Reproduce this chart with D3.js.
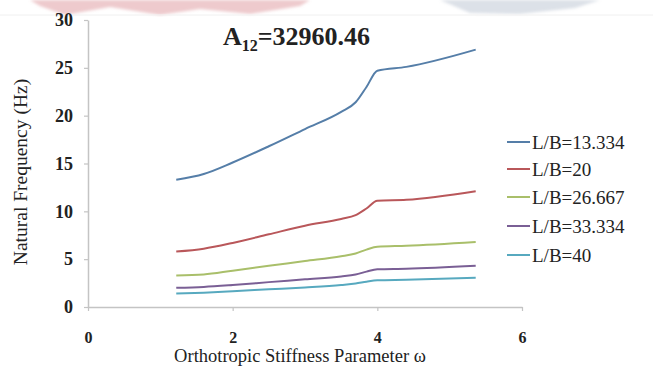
<!DOCTYPE html>
<html>
<head>
<meta charset="utf-8">
<script src="https://cdn.jsdelivr.net/npm/d3@7"></script>
<style>
  html, body { margin: 0; padding: 0; background: #fff; }
  svg { display: block; }
  text { font-family: "Liberation Serif", "Times New Roman", serif; fill: #222; }
</style>
</head>
<body>
<svg id="chart" width="653" height="367"></svg>
<script>
// Orthotropic stiffness parameter (x values shared by all series)
const omega = [1.22, 1.6, 2.0, 2.5, 3.0, 3.5, 3.7, 3.85, 4.0, 4.4, 5.36];

// Natural frequency (Hz) for each length/breadth ratio
const freqLB13 = [13.3, 13.9, 15.1, 16.8, 18.6, 20.4, 21.4, 23.0, 24.7, 25.1, 26.9];
const freqLB20 = [5.8, 6.1, 6.7, 7.6, 8.5, 9.2, 9.6, 10.3, 11.1, 11.2, 12.1];
const freqLB26 = [3.3, 3.4, 3.8, 4.3, 4.8, 5.3, 5.6, 6.0, 6.3, 6.4, 6.8];
const freqLB33 = [2.0, 2.1, 2.3, 2.6, 2.9, 3.2, 3.4, 3.7, 3.95, 4.0, 4.3];
const freqLB40 = [1.4, 1.5, 1.65, 1.85, 2.05, 2.3, 2.45, 2.65, 2.8, 2.85, 3.05];

const seriesNames = ["L/B=13.334", "L/B=20", "L/B=26.667", "L/B=33.334", "L/B=40"];
const seriesValues = [freqLB13, freqLB20, freqLB26, freqLB33, freqLB40];
const seriesColors = ["#557ea8", "#b9575a", "#a9bf6a", "#7a5f95", "#57a9bf"];

const xTicks = [0, 2, 4, 6];
const yTicks = [0, 5, 10, 15, 20, 25, 30];

const serif = "'Liberation Serif', 'Times New Roman', serif";
const svg = d3.select("#chart");

// faint banner shapes along the top edge
const defs = svg.append("defs");
defs.append("filter").attr("id", "soft")
  .append("feGaussianBlur").attr("stdDeviation", 1.5);
const banner = svg.append("g").attr("filter", "url(#soft)");
banner.append("polygon")
  .attr("points", "30,0 310,0 300,6 250,14 200,9 160,15 110,7 65,15 40,6")
  .attr("fill", "#d98a90").attr("opacity", 0.45);
banner.append("polygon")
  .attr("points", "440,0 600,0 575,8 520,14 470,13")
  .attr("fill", "#9aa8bc").attr("opacity", 0.35);
svg.append("line").attr("x1", 0).attr("x2", 653).attr("y1", 15).attr("y2", 15)
  .attr("stroke", "#f0f0f0").attr("stroke-width", 1);

const x = d3.scaleLinear().domain([0, 6]).range([88, 522]);
const y = d3.scaleLinear().domain([0, 30]).range([307, 20]);

// axes
const axisColor = "#c4c4c4";
const gy = svg.append("g").attr("transform", `translate(${x(0)},0)`)
  .attr("font-family", serif)
  .call(d3.axisLeft(y).tickValues(yTicks).tickFormat(d3.format("d"))
    .tickSize(4).tickPadding(11).tickSizeOuter(0));
gy.select(".domain").attr("stroke", axisColor).attr("stroke-width", 1.5);
gy.selectAll(".tick line").attr("stroke", axisColor).attr("stroke-width", 1.2);
gy.selectAll(".tick text").style("font-size", "18px").style("font-weight", "bold")
  .attr("fill", "#333").style("font-family", serif);

const gx = svg.append("g").attr("transform", `translate(0,${y(0)})`)
  .attr("font-family", serif)
  .call(d3.axisBottom(x).tickValues(xTicks).tickFormat(d3.format("d"))
    .tickSize(4).tickPadding(21).tickSizeOuter(0));
gx.select(".domain").attr("stroke", axisColor).attr("stroke-width", 1.5);
gx.selectAll(".tick line").attr("stroke", axisColor).attr("stroke-width", 1.2);
gx.selectAll(".tick text").style("font-size", "16px").style("font-weight", "bold")
  .attr("fill", "#333").style("font-family", serif);

// axis titles
svg.append("text")
  .attr("transform", "translate(27,172) rotate(-90)")
  .attr("text-anchor", "middle")
  .style("font-size", "19.5px")
  .style("font-family", serif)
  .text("Natural Frequency (Hz)");

svg.append("text")
  .attr("x", 300).attr("y", 362)
  .attr("text-anchor", "middle")
  .style("font-size", "18.5px")
  .style("font-family", serif)
  .text("Orthotropic Stiffness Parameter ω");

// series lines
const line = d3.line()
  .x((d, i) => x(omega[i]))
  .y(d => y(d))
  .curve(d3.curveMonotoneX);

svg.append("g").selectAll("path")
  .data(seriesValues)
  .join("path")
  .attr("d", d => line(d))
  .attr("fill", "none")
  .attr("stroke", (d, i) => seriesColors[i])
  .attr("stroke-width", 2);

// title
const title = svg.append("text")
  .attr("x", 223).attr("y", 45)
  .style("font-size", "26px")
  .style("font-weight", "bold")
  .style("font-family", serif);
title.append("tspan").text("A");
title.append("tspan").attr("dy", 6).style("font-size", "16px").text("12");
title.append("tspan").attr("dy", -6).text("=32960.46");

// legend
const legendRowY = [142, 169, 197, 226, 255];
const legend = svg.append("g").selectAll("g")
  .data(seriesNames)
  .join("g")
  .attr("transform", (d, i) => `translate(507,${legendRowY[i]})`);
legend.append("line")
  .attr("x1", 0).attr("x2", 23).attr("y1", 0).attr("y2", 0)
  .attr("stroke", (d, i) => seriesColors[i])
  .attr("stroke-width", 2);
legend.append("text")
  .attr("x", 25).attr("y", 0).attr("dy", "0.35em")
  .style("font-size", "19px")
  .style("font-family", serif)
  .text(d => d);
</script>
</body>
</html>
